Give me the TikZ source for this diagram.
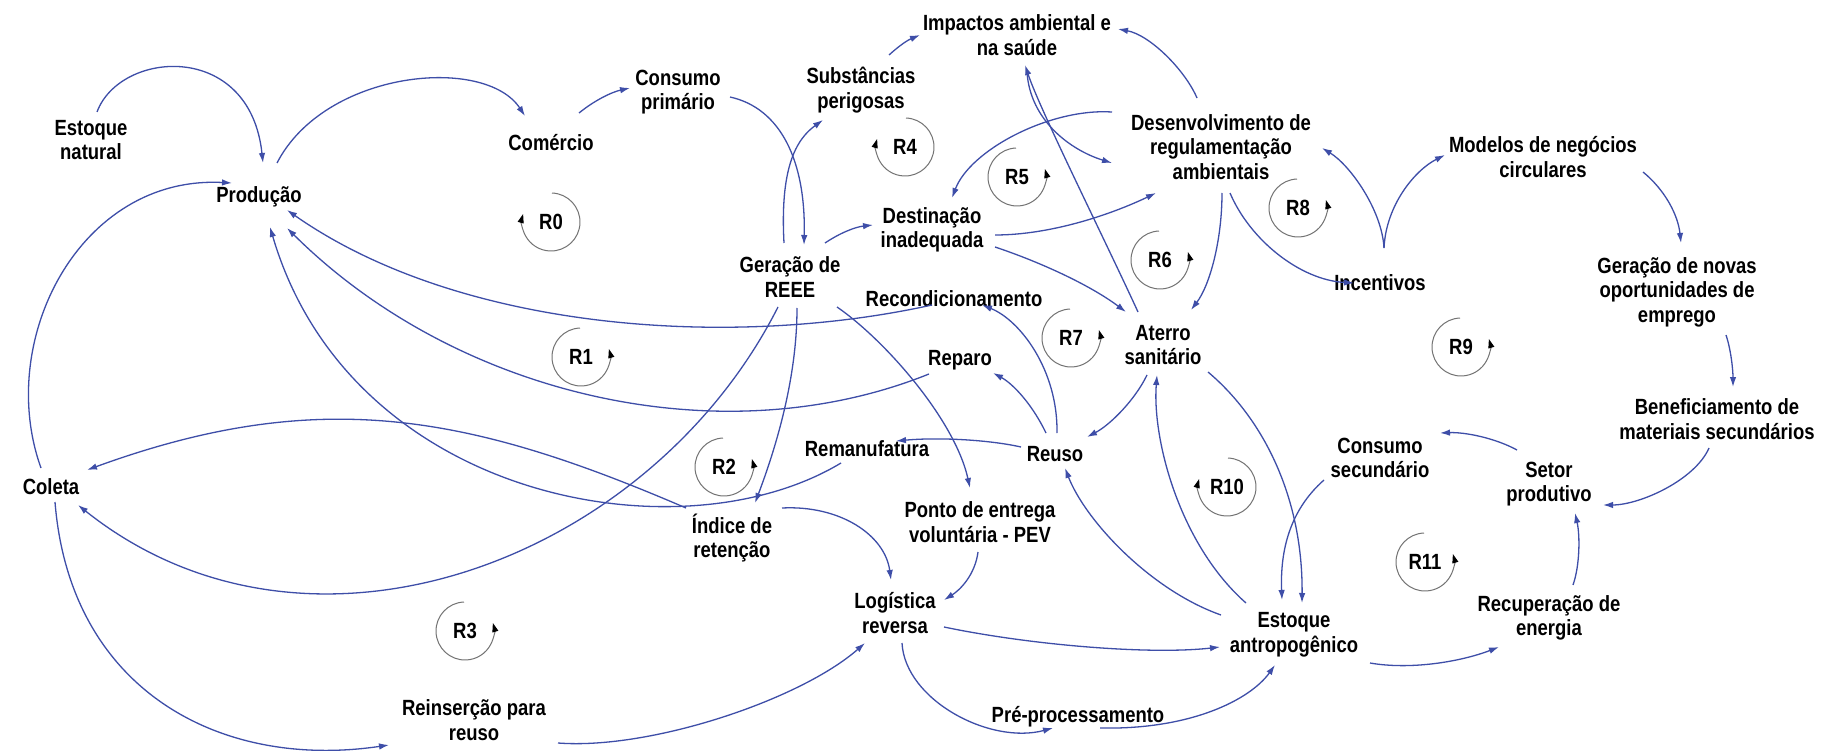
\documentclass[tikz,border=0pt]{standalone}
\usepackage{fontspec}
\setmainfont{Liberation Sans}[FakeStretch=0.84]
\usetikzlibrary{arrows.meta}
\definecolor{eblue}{RGB}{62,78,168}
\definecolor{lgray}{RGB}{115,115,115}
\begin{document}
\begin{tikzpicture}[x=1pt,y=-1pt,
  lbl/.style={font=\fontsize{22}{24.5}\selectfont\bfseries, align=center, inner sep=0pt, text=black},
  cl/.style={draw=eblue, line width=1.3pt, -{Latex[length=10pt,width=6.5pt]}},
  rloop/.style={draw=lgray, line width=1pt, -{Triangle[length=9pt,width=6pt,color=black]}},
]
\fill[white] (0,0) rectangle (1829,751);
\useasboundingbox (0,0) rectangle (1829,751);

% nodes
\node[lbl] (nat) at (91,140) {Estoque\\natural};
\node[lbl] (prod) at (259,197) {Produção};
\node[lbl] (com) at (551,143) {Comércio};
\node[lbl] (cp) at (678,92) {Consumo\\primário};
\node[lbl] (sub) at (861,90) {Substâncias\\perigosas};
\node[lbl] (imp) at (1017,35) {Impactos ambiental e\\na saúde};
\node[lbl] (des) at (1221,147) {Desenvolvimento de\\regulamentação\\ambientais};
\node[lbl] (dest) at (932,230) {Destinação\\inadequada};
\node[lbl] (ger) at (790,277) {Geração de\\REEE};
\node[lbl] (rec) at (954,299) {Recondicionamento};
\node[lbl] (ate) at (1163,345) {Aterro\\sanitário};
\node[lbl] (rep) at (960,360) {Reparo};
\node[lbl] (mod) at (1543,157) {Modelos de negócios\\circulares};
\node[lbl] (inc) at (1380,283) {Incentivos};
\node[lbl] (gno) at (1677,292) {Geração de novas\\oportunidades de\\emprego};
\node[lbl] (ben) at (1717,419) {Beneficiamento de\\materiais secundários};
\node[lbl] (cs) at (1380,458) {Consumo\\secundário};
\node[lbl] (set) at (1549,484) {Setor\\produtivo};
\node[lbl] (est) at (1294,635) {Estoque\\antropogênico};
\node[lbl] (rcp) at (1549,618) {Recuperação de\\energia};
\node[lbl] (reu) at (1055,454) {Reuso};
\node[lbl] (rem) at (867,449) {Remanufatura};
\node[lbl] (ind) at (732,538) {Índice de\\retenção};
\node[lbl] (pev) at (980,522) {Ponto de entrega\\voluntária - PEV};
\node[lbl] (log) at (895,613) {Logística\\reversa};
\node[lbl] (pre) at (1078,717) {Pré-processamento};
\node[lbl] (rei) at (474,720) {Reinserção para\\reuso};
\node[lbl] (col) at (51,487) {Coleta};

% loop markers
\node[lbl] (r0) at (551,222) {R0};
\node[lbl] (r1) at (581,357) {R1};
\node[lbl] (r2) at (724,467) {R2};
\node[lbl] (r3) at (465,631) {R3};
\node[lbl] (r4) at (905,147) {R4};
\node[lbl] (r5) at (1017,177) {R5};
\node[lbl] (r6) at (1160,260) {R6};
\node[lbl] (r7) at (1071,338) {R7};
\node[lbl] (r8) at (1298,208) {R8};
\node[lbl] (r9) at (1461,347) {R9};
\node[lbl] (r10) at (1227,487) {R10};
\node[lbl] (r11) at (1425,562) {R11};
\foreach \r in {r1,r2,r3,r5,r6,r7,r8,r9,r11}{
  \draw[rloop] ([shift={(-92:29)}]\r.center) arc[start angle=-92, end angle=-376, radius=29];
}
\foreach \r in {r0,r4,r10}{
  \draw[rloop] ([shift={(-88:29)}]\r.center) arc[start angle=-88, end angle=196, radius=29];
}

% connectors
\draw[cl] ([shift={(6,-28)}]nat.center) .. controls (120,50) and (250,40) .. ([shift={(4,-34)}]prod.center);
\draw[cl] ([shift={(18,-34)}]prod.center) .. controls (325,70) and (485,55) .. ([shift={(-26,-27)}]com.center);
\draw[cl] ([shift={(28,-30)}]com.center) .. controls (595,100) and (612,92) .. ([shift={(-48,-4)}]cp.center);
\draw[cl] ([shift={(52,5)}]cp.center) .. controls (780,108) and (806,160) .. ([shift={(14,-32)}]ger.center);
\draw[cl] ([shift={(-6,-34)}]ger.center) .. controls (780,170) and (795,140) .. ([shift={(-38,30)}]sub.center);
\draw[cl] ([shift={(28,-35)}]sub.center) .. controls (900,45) and (908,40) .. ([shift={(-97,0)}]imp.center);
\draw[cl] ([shift={(-24,-49)}]des.center) .. controls (1185,70) and (1150,35) .. ([shift={(101,-6)}]imp.center);
\draw[cl] ([shift={(-25,-33)}]ate.center) .. controls (1105,240) and (1040,110) .. ([shift={(8,30)}]imp.center);
\draw[cl] ([shift={(10,37)}]imp.center) .. controls (1030,120) and (1070,150) .. ([shift={(-109,16)}]des.center);
\draw[cl] ([shift={(-109,-35)}]des.center) .. controls (1050,108) and (970,150) .. ([shift={(20,-32)}]dest.center);
\draw[cl] ([shift={(63,5)}]dest.center) .. controls (1050,235) and (1110,215) .. ([shift={(-65,46)}]des.center);
\draw[cl] ([shift={(35,-34)}]ger.center) .. controls (840,233) and (855,227) .. ([shift={(-59,-5)}]dest.center);
\draw[cl] ([shift={(63,17)}]dest.center) .. controls (1040,262) and (1090,285) .. ([shift={(-37,-33)}]ate.center);
\draw[cl] ([shift={(1,46)}]des.center) .. controls (1222,240) and (1210,285) .. ([shift={(28,-35)}]ate.center);
\draw[cl] ([shift={(9,46)}]des.center) .. controls (1250,240) and (1300,280) .. ([shift={(-26,0)}]inc.center);
\draw[cl] ([shift={(4,-35)}]inc.center) .. controls (1382,210) and (1350,165) .. ([shift={(101,1)}]des.center);
\draw[cl] ([shift={(4,-35)}]inc.center) .. controls (1386,205) and (1415,170) .. ([shift={(-98,-2)}]mod.center);
\draw[cl] ([shift={(100,15)}]mod.center) .. controls (1665,190) and (1678,215) .. ([shift={(4,-49)}]gno.center);
\draw[cl] ([shift={(49,43)}]gno.center) .. controls (1731,350) and (1733,370) .. ([shift={(16,-32)}]ben.center);
\draw[cl] ([shift={(-8,29)}]ben.center) .. controls (1695,480) and (1640,505) .. ([shift={(54,21)}]set.center);
\draw[cl] ([shift={(-32,-34)}]set.center) .. controls (1495,438) and (1465,432) .. ([shift={(60,-25)}]cs.center);
\draw[cl] ([shift={(-56,22)}]cs.center) .. controls (1290,510) and (1280,550) .. ([shift={(-12,-35)}]est.center);
\draw[cl] ([shift={(45,27)}]ate.center) .. controls (1265,420) and (1303,500) .. ([shift={(8,-32)}]est.center);
\draw[cl] ([shift={(-48,-32)}]est.center) .. controls (1180,545) and (1152,440) .. ([shift={(-6,30)}]ate.center);
\draw[cl] ([shift={(-73,-20)}]est.center) .. controls (1150,590) and (1085,520) .. ([shift={(10,14)}]reu.center);
\draw[cl] ([shift={(-16,30)}]ate.center) .. controls (1135,400) and (1110,425) .. ([shift={(32,-17)}]reu.center);
\draw[cl] ([shift={(-9,-21)}]reu.center) .. controls (1030,400) and (1010,382) .. ([shift={(33,13)}]rep.center);
\draw[cl] ([shift={(2,-21)}]reu.center) .. controls (1058,370) and (1020,320) .. ([shift={(28,6)}]rec.center);
\draw[cl] ([shift={(-34,-7)}]reu.center) .. controls (990,440) and (940,437) .. ([shift={(29,-8)}]rem.center);
\draw[cl] ([shift={(-46,-30)}]ind.center) .. controls (470,415) and (320,385) .. ([shift={(36,-17)}]col.center);
\draw[cl] ([shift={(-26,14)}]rem.center) .. controls (680,560) and (350,500) .. ([shift={(11,30)}]prod.center);
\draw[cl] ([shift={(-31,14)}]rep.center) .. controls (720,458) and (455,395) .. ([shift={(28,31)}]prod.center);
\draw[cl] ([shift={(-22,6)}]rec.center) .. controls (728,350) and (458,330) .. ([shift={(28,13)}]prod.center);
\draw[cl] ([shift={(-12,30)}]ger.center) .. controls (650,560) and (310,690) .. ([shift={(27,18)}]col.center);
\draw[cl] ([shift={(7,31)}]ger.center) .. controls (797,380) and (775,450) .. ([shift={(23,-35)}]ind.center);
\draw[cl] ([shift={(47,30)}]ger.center) .. controls (885,340) and (955,420) .. ([shift={(-10,-34)}]pev.center);
\draw[cl] ([shift={(-10,-19)}]col.center) .. controls (-5,340) and (80,175) .. ([shift={(-27,-14)}]prod.center);
\draw[cl] ([shift={(4,15)}]col.center) .. controls (70,690) and (220,770) .. ([shift={(-85,25)}]rei.center);
\draw[cl] ([shift={(84,23)}]rei.center) .. controls (650,750) and (800,700) .. ([shift={(-30,30)}]log.center);
\draw[cl] ([shift={(50,-30)}]ind.center) .. controls (840,505) and (885,535) .. ([shift={(-4,-33)}]log.center);
\draw[cl] ([shift={(-2,30)}]pev.center) .. controls (975,575) and (960,590) .. ([shift={(49,-13)}]log.center);
\draw[cl] ([shift={(49,14)}]log.center) .. controls (1030,645) and (1150,655) .. ([shift={(-74,12)}]est.center);
\draw[cl] ([shift={(7,30)}]log.center) .. controls (905,700) and (990,745) .. ([shift={(-25,11)}]pre.center);
\draw[cl] ([shift={(22,11)}]pre.center) .. controls (1190,730) and (1250,700) .. ([shift={(-19,30)}]est.center);
\draw[cl] ([shift={(76,28)}]est.center) .. controls (1410,670) and (1460,662) .. ([shift={(-50,29)}]rcp.center);
\draw[cl] ([shift={(24,-33)}]rcp.center) .. controls (1580,565) and (1580,535) .. ([shift={(26,29)}]set.center);
\end{tikzpicture}
\end{document}
